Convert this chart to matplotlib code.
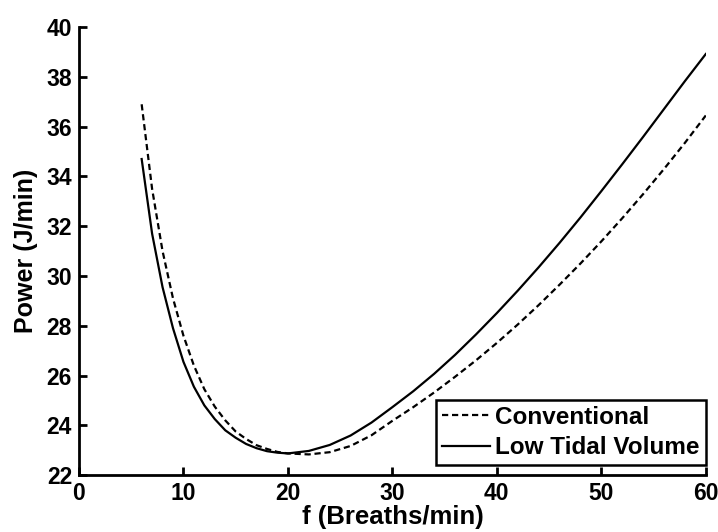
import numpy as np
import matplotlib
matplotlib.use("Agg")
import matplotlib.pyplot as plt

# breathing frequency (breaths/min)
freq = [6, 7, 8, 9, 10, 11, 12, 13, 14, 15, 16, 17, 18, 19, 20,
        22, 24, 26, 28, 30, 32, 34, 36, 38, 40, 42, 44, 46, 48, 50,
        52, 54, 56, 58, 60]

# power (J/min)
conventional = [36.9, 33.5, 31.0, 29.1, 27.6, 26.4, 25.45, 24.75, 24.2, 23.75,
                23.45, 23.2, 23.05, 22.93, 22.87,
                22.83, 22.92, 23.17, 23.6, 24.18, 24.73, 25.32, 25.95, 26.61, 27.31,
                28.05, 28.83, 29.65, 30.5, 31.39, 32.32, 33.29, 34.3, 35.35, 36.45]
low_tidal = [34.7, 31.7, 29.55, 27.9, 26.55, 25.55, 24.8, 24.25, 23.8, 23.5,
             23.25, 23.08, 22.96, 22.9, 22.87,
             22.97, 23.21, 23.59, 24.11, 24.73, 25.37, 26.07, 26.83, 27.65, 28.51,
             29.41, 30.35, 31.33, 32.35, 33.41, 34.49, 35.59, 36.71, 37.83, 38.92]

plt.rcParams['font.family'] = ['Liberation Sans', 'DejaVu Sans']
plt.rcParams['font.weight'] = 'bold'

fig = plt.figure(figsize=(7.18, 5.32), dpi=100)
ax = fig.add_axes([0.110, 0.107, 0.873, 0.842])

ax.plot(freq, conventional, color='black', lw=1.6, ls=(0, (2.8, 1.7)), label='Conventional')
ax.plot(freq, low_tidal, color='black', lw=1.6, label='Low Tidal Volume')

ax.set_xlim(0, 60)
ax.set_ylim(22, 40)
ax.set_xticks(np.arange(0, 61, 10))
ax.set_yticks(np.arange(22, 41, 2))

for side in ['top', 'right']:
    ax.spines[side].set_visible(False)
for side in ['left', 'bottom']:
    ax.spines[side].set_linewidth(2)

ax.tick_params(direction='in', length=6, width=2, labelsize=16.5)
ax.tick_params(axis='x', pad=5)
ax.tick_params(axis='y', pad=5)
for lab in ax.get_xticklabels() + ax.get_yticklabels():
    lab.set_fontweight('bold')

ax.set_xlabel('f (Breaths/min)', fontsize=18.5, fontweight='bold', labelpad=0)
ax.set_ylabel('Power (J/min)', fontsize=18, fontweight='bold', labelpad=6)

leg = ax.legend(loc='lower right', bbox_to_anchor=(1.0, 0.022), borderaxespad=0,
                fontsize=17.5, handlelength=2.0, handletextpad=0.2,
                fancybox=False, framealpha=1, edgecolor='black',
                borderpad=0.25, labelspacing=0.3)
leg.get_frame().set_linewidth(1.8)
for t in leg.get_texts():
    t.set_fontweight('bold')

fig.savefig('out.png', dpi=100)
